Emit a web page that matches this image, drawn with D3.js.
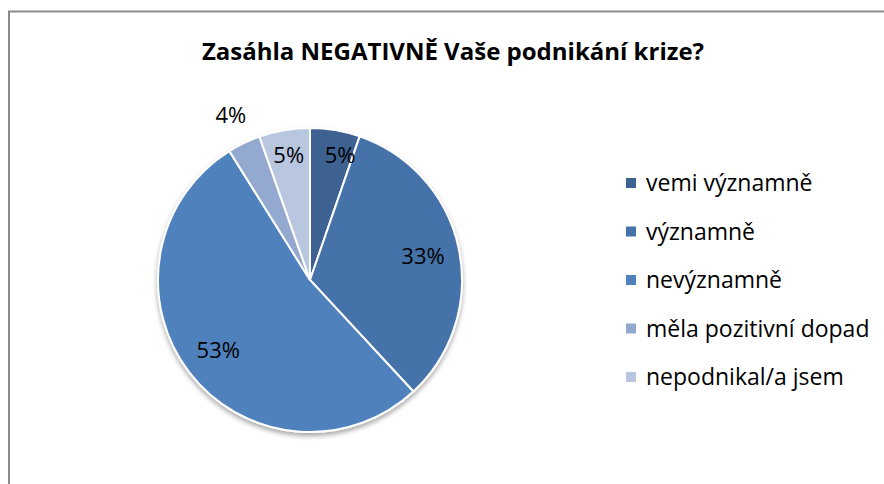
<!DOCTYPE html>
<html><head><meta charset="utf-8">
<script src="https://cdn.jsdelivr.net/npm/d3@7"></script>
<style>
html,body{margin:0;padding:0;background:#fff;}
svg{display:block;font-family:"Open Sans",Lato,sans-serif;}
</style></head>
<body>
<svg id="chart" width="884" height="484"></svg>
<script>
const title = "Zasáhla NEGATIVNĚ Vaše podnikání krize?";
const categories = ["vemi významně","významně","nevýznamně","měla pozitivní dopad","nepodnikal/a jsem"];
const values = [5.3, 32.8, 53.0, 3.5, 5.4];
const colors = ["#3C6292","#4573A9","#4F81BD","#94A9D0","#B9C6E0"];

const svg = d3.select("#chart");
const W = 884, H = 484;

// frame
svg.append("path").attr("d", `M9,${H+5}V11.5H${W+5}`).attr("fill","none").attr("stroke","#8a8a8a").attr("stroke-width",2);

svg.append("text").attr("x",453).attr("y",60).attr("text-anchor","middle")
  .attr("font-size",24).attr("font-weight","bold").attr("fill","#000").text(title);

const cx = 310, cy = 280, R = 152;
const defs = svg.append("defs");
const f = defs.append("filter").attr("id","sh").attr("x","-20%").attr("y","-20%").attr("width","140%").attr("height","150%");
f.append("feGaussianBlur").attr("in","SourceAlpha").attr("stdDeviation",2.5);
f.append("feOffset").attr("dx",0).attr("dy",3).attr("result","b");
f.append("feComponentTransfer").append("feFuncA").attr("type","linear").attr("slope",0.35);
const m = f.append("feMerge"); m.append("feMergeNode"); m.append("feMergeNode").attr("in","SourceGraphic");

const data = categories.map((c,i)=>({cat:c, value:values[i], color:colors[i]}));
const pie = d3.pie().sort(null).value(d=>d.value);
const arcs = pie(data);
const arc = d3.arc().innerRadius(0).outerRadius(R);
const g = svg.append("g").attr("transform",`translate(${cx},${cy})`);
g.append("g").attr("filter","url(#sh)").selectAll("path").data(arcs).join("path")
  .attr("d",arc).attr("fill",d=>d.data.color).attr("stroke","#fff").attr("stroke-width",2);

const total = d3.sum(values);
const lab = g.selectAll("text").data(arcs).join("text")
  .attr("text-anchor","middle").attr("font-size",22).attr("fill","#000")
  .attr("transform",(d,i)=>{
    const share = d.value/total;
    const r = share < 0.04 ? R*1.2 : share < 0.1 ? R*0.83 : R*0.76;
    let [x,y] = d3.arc().innerRadius(r).outerRadius(r).centroid(d);
    // keep small labels near the top from crowding the slice boundary
    if (share < 0.1 && share >= 0.04 && x > 0) x = Math.max(x, 30);
    return `translate(${x},${y})`;
  })
  .attr("dy","0.35em")
  .text(d=>Math.round(d.value/total*100)+"%");

// legend
const lg = svg.append("g").attr("transform","translate(626,183)");
const row = lg.selectAll("g").data(data).join("g").attr("transform",(d,i)=>`translate(0,${i*48.5})`);
row.append("rect").attr("x",0).attr("y",-5).attr("width",10).attr("height",10).attr("fill",d=>d.color);
row.append("text").attr("x",20).attr("y",0).attr("dy","0.35em").attr("font-size",23).attr("fill","#000").text(d=>d.cat);
</script>
</body></html>
